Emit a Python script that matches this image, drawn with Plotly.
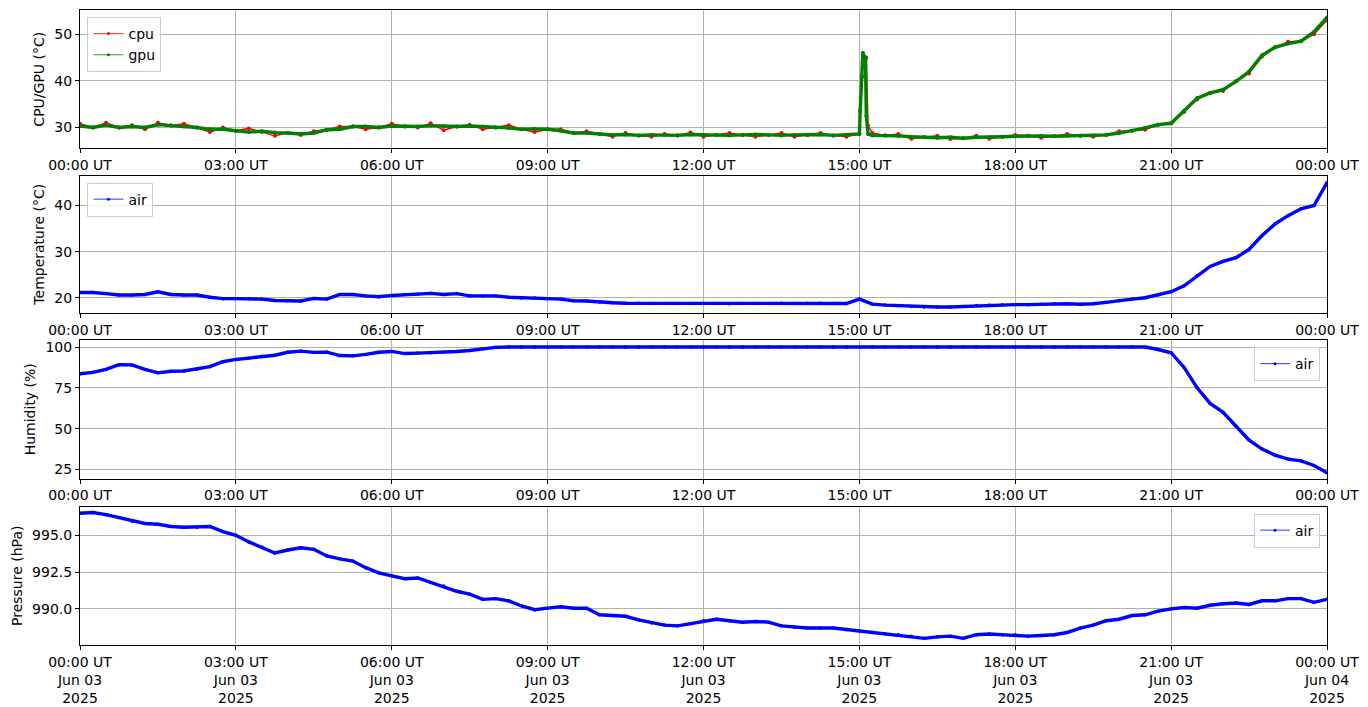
import pandas as pd
import plotly.graph_objects as go

# ---------------- data (15-minute samples, 2025-06-03 00:00 .. 2025-06-04 00:00) ----------------
times = pd.date_range("2025-06-03 00:00", "2025-06-04 00:00", freq="15min")

gpu = [30.3, 30.0, 30.5, 30.0, 30.2, 30.0, 30.6, 30.4, 30.2, 30.0, 29.6, 29.6,
       29.3, 29.0, 29.2, 28.9, 28.8, 28.6, 28.8, 29.5, 29.6, 30.2, 30.2, 30.0,
       30.3, 30.2, 30.2, 30.4, 30.3, 30.2, 30.3, 30.2, 30.0, 29.9, 29.6, 29.7,
       29.6, 29.3, 28.8, 28.8, 28.6, 28.4, 28.5, 28.3, 28.4, 28.4, 28.3, 28.5,
       28.4, 28.4, 28.3, 28.4, 28.5, 28.4, 28.3, 28.4, 28.4, 28.5, 28.3, 28.4,
       28.6, 28.3, 28.3, 28.2, 28.0, 27.9, 27.8, 27.9, 27.7, 27.9, 27.9, 28.0,
       28.1, 28.2, 28.2, 28.1, 28.2, 28.2, 28.3, 28.4, 28.8, 29.3, 29.9, 30.6,
       30.9, 33.6, 36.3, 37.4, 38.1, 39.9, 42.0, 45.5, 47.2, 48.0, 48.5, 50.5,
       53.6]

cpu = [30.8, 30.0, 31.0, 30.0, 30.5, 29.6, 31.0, 30.4, 30.8, 30.0, 29.0, 30.0,
       29.3, 29.8, 29.0, 28.2, 28.8, 28.4, 29.2, 29.5, 30.2, 30.2, 29.6, 30.0,
       30.8, 30.2, 30.0, 30.9, 29.4, 30.2, 30.6, 29.6, 30.0, 30.5, 29.6, 29.0,
       29.6, 29.6, 28.8, 29.2, 28.6, 28.0, 28.8, 28.3, 28.0, 28.6, 28.3, 28.9,
       28.0, 28.4, 28.8, 28.4, 28.0, 28.4, 28.8, 28.0, 28.4, 28.8, 28.3, 28.0,
       28.6, 28.8, 28.3, 28.6, 27.6, 27.9, 28.2, 27.5, 27.7, 28.2, 27.6, 28.0,
       28.4, 28.2, 27.8, 28.1, 28.6, 28.2, 28.0, 28.4, 29.2, 29.3, 29.5, 30.6,
       30.9, 33.3, 36.0, 37.4, 37.8, 39.9, 41.6, 45.2, 47.2, 48.4, 48.5, 50.0,
       53.0]

spike_times = ["2025-06-03 15:01", "2025-06-03 15:03", "2025-06-03 15:04",
               "2025-06-03 15:05", "2025-06-03 15:07", "2025-06-03 15:08",
               "2025-06-03 15:10"]
spike_gpu = [33.8, 40.8, 46.0, 45.4, 45.0, 32.5, 28.6]
spike_cpu = [33.3, 41.0, 46.0, 45.2, 44.6, 45.0, 30.4]

air_temp = [21.15, 21.15, 20.9, 20.6, 20.6, 20.7, 21.3, 20.7, 20.6, 20.6, 20.1, 19.8,
            19.8, 19.8, 19.7, 19.4, 19.35, 19.3, 19.85, 19.7, 20.7, 20.7, 20.4, 20.2,
            20.5, 20.7, 20.75, 20.95, 20.7, 20.9, 20.4, 20.4, 20.4, 20.1, 19.95, 19.95,
            19.8, 19.7, 19.35, 19.3, 19.05, 18.9, 18.8, 18.8, 18.75, 18.75, 18.75, 18.75,
            18.75, 18.75, 18.7, 18.75, 18.75, 18.75, 18.8, 18.75, 18.8, 18.8, 18.75, 18.75,
            19.7, 18.6, 18.4, 18.3, 18.1, 18.0, 18.0, 18.0, 18.1, 18.3, 18.4, 18.5,
            18.5, 18.5, 18.6, 18.7, 18.7, 18.6, 18.7, 19.0, 19.4, 19.7, 20.0, 20.6,
            21.3, 22.6, 24.8, 26.8, 27.9, 28.7, 30.5, 33.5, 36.0, 37.8, 39.3, 40.0,
            45.0]

air_hum = [83.6, 84.5, 86.3, 89.2, 89.0, 86.3, 84.2, 85.2, 85.3, 86.4, 88.0, 91.0,
           92.4, 93.2, 94.3, 95.0, 96.8, 97.5, 96.7, 96.9, 94.8, 94.6, 95.5, 96.8,
           97.3, 96.0, 96.3, 96.5, 96.9, 97.3, 97.9, 99.0, 99.8, 100.0, 100.0, 100.0,
           100.0, 100.0, 100.0, 100.0, 100.0, 100.0, 100.0, 100.0, 100.0, 100.0, 100.0, 100.0,
           100.0, 100.0, 100.0, 100.0, 100.0, 100.0, 100.0, 100.0, 100.0, 100.0, 100.0, 100.0,
           100.0, 100.0, 100.0, 100.0, 100.0, 100.0, 100.0, 100.0, 100.0, 100.0, 100.0, 100.0,
           100.0, 100.0, 100.0, 100.0, 100.0, 100.0, 100.0, 100.0, 100.0, 100.0, 100.0, 98.5,
           96.5, 87.5, 75.0, 65.5, 60.0, 51.5, 43.0, 37.5, 33.8, 31.4, 30.3, 27.5,
           23.0]

air_pres = [996.5, 996.55, 996.4, 996.2, 995.95, 995.8, 995.75, 995.6, 995.55, 995.55, 995.6, 995.25,
            995.0, 994.55, 994.2, 993.8, 994.0, 994.15, 994.05, 993.6, 993.4, 993.25, 992.8, 992.45,
            992.25, 992.05, 992.1, 991.8, 991.55, 991.2, 991.0, 990.65, 990.7, 990.55, 990.2, 989.95,
            990.05, 990.15, 990.05, 990.05, 989.6, 989.55, 989.5, 989.25, 989.05, 988.9, 988.85, 989.0,
            989.2, 989.3, 989.2, 989.1, 989.15, 989.1, 988.85, 988.75, 988.7, 988.7, 988.7, 988.6,
            988.5, 988.4, 988.3, 988.25, 988.15, 988.0, 988.1, 988.15, 988.0, 988.25, 988.3, 988.25,
            988.25, 988.15, 988.2, 988.25, 988.4, 988.7, 988.9, 989.2, 989.3, 989.55, 989.6, 989.85,
            990.0, 990.1, 990.05, 990.25, 990.35, 990.4, 990.3, 990.55, 990.55, 990.7, 990.7, 990.45,
            990.65]

tick_times = ["2025-06-03 00:00", "2025-06-03 03:00", "2025-06-03 06:00", "2025-06-03 09:00",
              "2025-06-03 12:00", "2025-06-03 15:00", "2025-06-03 18:00", "2025-06-03 21:00",
              "2025-06-04 00:00"]
tick_hours = ["00:00", "03:00", "06:00", "09:00", "12:00", "15:00", "18:00", "21:00", "00:00"]
tick_days = ["Jun 03", "Jun 03", "Jun 03", "Jun 03", "Jun 03", "Jun 03", "Jun 03", "Jun 03", "Jun 04"]
tick_year = "2025"

# ---------------- assemble cpu/gpu with the spike samples ----------
cg = pd.DataFrame({"t": list(times) + list(pd.to_datetime(spike_times)),
                   "cpu": cpu + spike_cpu, "gpu": gpu + spike_gpu}).sort_values("t")

FONT = "DejaVu Sans"
FS = 14
fig = go.Figure()

def add(x, y, name, color, xa, ya, leg, width=2.6, msize=3.2):
    fig.add_trace(go.Scatter(x=x, y=y, mode="lines+markers", name=name,
                             line=dict(color=color, width=width),
                             marker=dict(color=color, size=msize),
                             xaxis=xa, yaxis=ya, showlegend=False, hoverinfo="skip"))
    # legend entry in matplotlib style (thin line, small marker)
    fig.add_trace(go.Scatter(x=[None], y=[None], mode="lines+markers", name=name,
                             line=dict(color=color, width=0.8),
                             marker=dict(color=color, size=3),
                             xaxis=xa, yaxis=ya, legend=leg, showlegend=True))

add(cg["t"], cg["cpu"], "cpu", "red", "x", "y", "legend", width=1.5, msize=4)
add(cg["t"], cg["gpu"], "gpu", "green", "x", "y", "legend", width=3.4, msize=4)
add(times, air_temp, "air", "blue", "x2", "y2", "legend2", width=3.4, msize=3.5)
add(times, air_hum, "air", "blue", "x3", "y3", "legend3", width=3.4, msize=3.5)
add(times, air_pres, "air", "blue", "x4", "y4", "legend4", width=3.4, msize=3.5)

axis_style = dict(showline=True, linecolor="black", linewidth=1, mirror=True,
                  ticks="outside", ticklen=4, tickwidth=1, tickcolor="black",
                  showgrid=True, gridcolor="#b0b0b0", gridwidth=0.8, zeroline=False,
                  tickfont=dict(family=FONT, size=FS, color="black"))

xr = ["2025-06-03 00:00", "2025-06-04 00:00"]
labels_short = [h + " UT" for h in tick_hours]
labels_long = [h + " UT<br>" + d + "<br>" + tick_year for h, d in zip(tick_hours, tick_days)]

domains = [(0.782, 1.0), (0.5229, 0.7393), (0.2622, 0.4803), (0.0, 0.218)]
ytitles = ["CPU/GPU (°C)", "Temperature (°C)", "Humidity (%)", "Pressure (hPa)"]
yranges = [[25.5, 55.2], [16.7, 46.5], [19.5, 104.3], [987.55, 996.95]]
ydticks = [10, 10, 25, 2.5]
yformats = ["", "", "", ".1f"]

# the page body adds an 8px offset, so the figure is sized/margined to compensate
layout = dict(width=1360, height=699, plot_bgcolor="white", paper_bgcolor="white",
              margin=dict(l=72, r=41, t=1, b=57),
              font=dict(family=FONT, size=FS, color="black"))

for i in range(4):
    sfx = "" if i == 0 else str(i + 1)
    layout["xaxis" + sfx] = dict(axis_style, type="date", range=xr, domain=[0, 1],
                                 anchor="y" + sfx, tickmode="array", tickvals=tick_times,
                                 ticktext=labels_long if i == 3 else labels_short)
    ya = dict(axis_style, domain=list(domains[i]), anchor="x" + sfx, range=yranges[i],
              dtick=ydticks[i], tick0=0,
              title=dict(text=ytitles[i], font=dict(family=FONT, size=FS), standoff=6))
    if yformats[i]:
        ya["tickformat"] = yformats[i]
    layout["yaxis" + sfx] = ya

leg_common = dict(bgcolor="rgba(255,255,255,0.8)", bordercolor="#cccccc", borderwidth=1,
                  font=dict(family=FONT, size=FS), itemwidth=30, tracegroupgap=2)
layout["legend"] = dict(leg_common, x=0.006, y=0.989, xanchor="left", yanchor="top")
layout["legend2"] = dict(leg_common, x=0.006, y=0.7283, xanchor="left", yanchor="top")
layout["legend3"] = dict(leg_common, x=0.9944, y=0.4692, xanchor="right", yanchor="top")
layout["legend4"] = dict(leg_common, x=0.9944, y=0.207, xanchor="right", yanchor="top")

fig.update_layout(**layout)
fig.write_html("out.html")
